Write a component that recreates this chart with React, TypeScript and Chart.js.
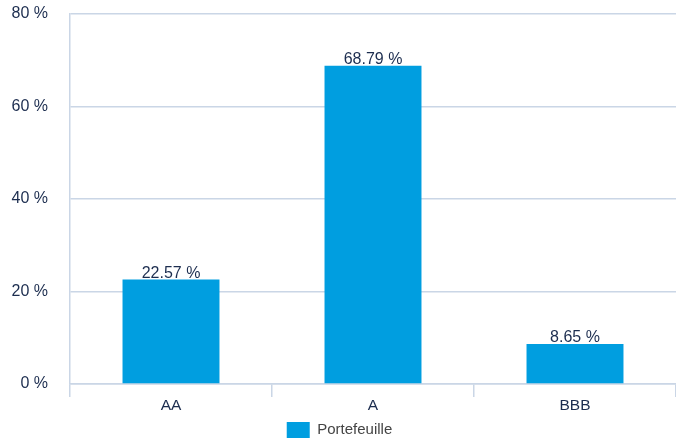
import React, { useEffect, useRef } from "react";
import { Chart, registerables } from "chart.js";

Chart.register(...registerables);

const categories = ["AA", "A", "BBB"];
const seriesName = "Portefeuille";
const values = [22.57, 68.79, 8.65];
const yTicks = [0, 20, 40, 60, 80];

const FONT = "'Liberation Sans', Arial, Helvetica, sans-serif";
const NAVY = "#1c2d4f";
const GRID = "#cad6e6";
const BAR = "#009ee0";

const valueLabels = {
  id: "valueLabels",
  afterDatasetsDraw(chart: any) {
    const ctx = chart.ctx;
    ctx.save();
    ctx.font = `16px ${FONT}`;
    ctx.fillStyle = NAVY;
    ctx.textAlign = "center";
    ctx.textBaseline = "alphabetic";
    chart.data.datasets.forEach((ds: any, i: number) => {
      const meta = chart.getDatasetMeta(i);
      meta.data.forEach((el: any, j: number) => {
        ctx.fillText(ds.data[j].toFixed(2) + " %", el.x, el.y - 2);
      });
    });
    ctx.restore();
  },
};

export default function App() {
  const ref = useRef<HTMLCanvasElement>(null);
  useEffect(() => {
    document.body.style.margin = "0";
    const chart = new Chart(ref.current!, {
      type: "bar",
      data: {
        labels: categories,
        datasets: [
          {
            label: seriesName,
            data: values,
            backgroundColor: BAR,
            borderWidth: 0,
            categoryPercentage: 0.8,
            barPercentage: 0.6,
          },
        ],
      },
      options: {
        animation: false,
        responsive: false,
        devicePixelRatio: 1,
        layout: { padding: { top: 14, right: -3, left: 0, bottom: -10 } },
        plugins: {
          tooltip: { enabled: false },
          legend: {
            position: "bottom",
            labels: {
              boxWidth: 23,
              boxHeight: 16,
              padding: 0,
              color: "#444444",
              font: { family: FONT, size: 15 },
            },
          },
        },
        scales: {
          x: {
            afterFit(axis: any) {
              axis.height = 38;
            },
            grid: {
              drawOnChartArea: false,
              drawTicks: true,
              tickLength: 13,
              color: GRID,
              lineWidth: 1.5,
            },
            border: { color: GRID, width: 1.5 },
            ticks: {
              color: NAVY,
              padding: -1,
              font: { family: FONT, size: 15.5 },
            },
          },
          y: {
            min: 0,
            max: 80,
            afterBuildTicks(axis: any) {
              axis.ticks = yTicks.map((v) => ({ value: v }));
            },
            afterFit(axis: any) {
              axis.width = 70;
            },
            grid: {
              color: GRID,
              drawTicks: true,
              tickLength: 22,
              tickColor: "rgba(0,0,0,0)",
              lineWidth: 1.5,
            },
            border: { color: GRID, width: 1.5 },
            ticks: {
              color: NAVY,
              padding: 0,
              font: { family: FONT, size: 16 },
              callback: (v: any) => v + " %",
            },
          },
        },
      },
      plugins: [valueLabels],
    });
    return () => chart.destroy();
  }, []);
  return (
    <div style={{ position: "absolute", left: 0, top: 0, width: 676, height: 438 }}>
      <canvas ref={ref} width={676} height={438} />
    </div>
  );
}
